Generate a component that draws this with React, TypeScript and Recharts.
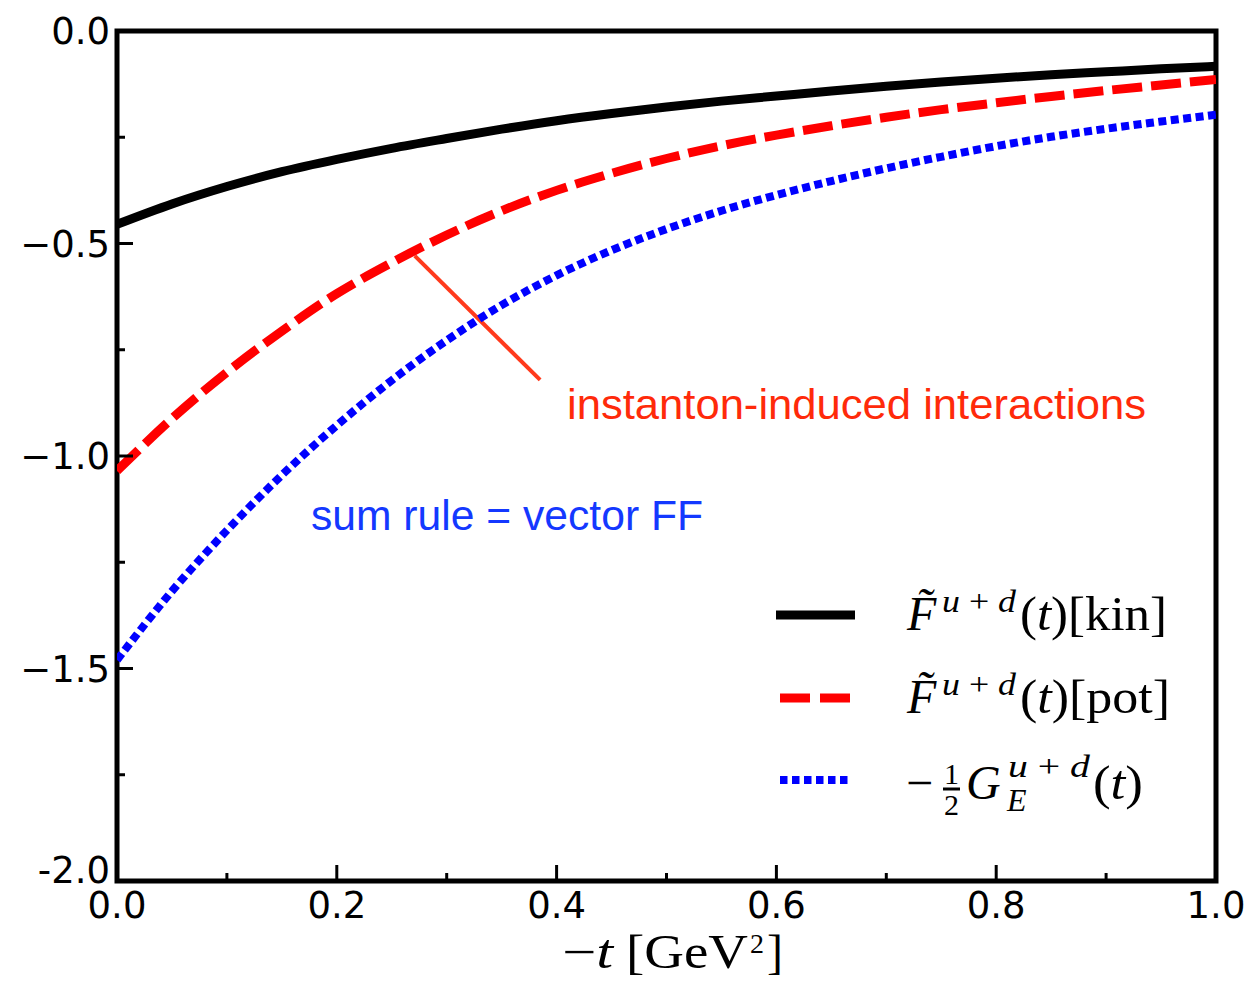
import React from "react";
import { LineChart, Line, XAxis, YAxis, ReferenceArea, ReferenceLine } from "recharts";

// -t in GeV^2
const tValues = [0, 0.05, 0.1, 0.15, 0.2, 0.25, 0.3, 0.35, 0.4, 0.45, 0.5, 0.55, 0.6, 0.65, 0.7, 0.75, 0.8, 0.85, 0.9, 0.95, 1.0];
// F~^{u+d}(t)[kin]
const kinValues = [-0.455, -0.407, -0.366, -0.331, -0.302, -0.276, -0.253, -0.231, -0.211, -0.194, -0.179, -0.165, -0.153, -0.141, -0.13, -0.12, -0.111, -0.103, -0.096, -0.089, -0.083];
// F~^{u+d}(t)[pot]
const potValues = [-1.035, -0.912, -0.803, -0.706, -0.618, -0.545, -0.48, -0.423, -0.375, -0.335, -0.3, -0.27, -0.245, -0.223, -0.203, -0.185, -0.169, -0.154, -0.14, -0.127, -0.114];
// -1/2 G_E^{u+d}(t)
const vectorValues = [-1.48, -1.318, -1.175, -1.045, -0.928, -0.822, -0.728, -0.645, -0.575, -0.516, -0.466, -0.423, -0.386, -0.353, -0.323, -0.296, -0.271, -0.249, -0.23, -0.213, -0.197];

const xTicks = [0, 0.1, 0.2, 0.3, 0.4, 0.5, 0.6, 0.7, 0.8, 0.9, 1.0];
const xTickLabels = ["0.0", "0.2", "0.4", "0.6", "0.8", "1.0"];
const yTicks = [-2, -1.75, -1.5, -1.25, -1, -0.75, -0.5, -0.25, 0];
const yTickLabels = ["-2.0", "\u22121.5", "\u22121.0", "\u22120.5", "0.0"];

const data = tValues.map((t, i) => ({
  t,
  kin: kinValues[i],
  pot: potValues[i],
  vec: vectorValues[i],
}));

const isMajor = (v: number, step: number) => Math.abs(v / step - Math.round(v / step)) < 1e-6;

function XTick(props: any) {
  const { x, y, payload } = props;
  const v = payload.value as number;
  const major = isMajor(v, 0.2);
  const label = major ? xTickLabels[Math.round(v / 0.2)] : null;
  return (
    <g>
      <line x1={x} y1={y} x2={x} y2={y - (major ? 16 : 8)} stroke="#000" strokeWidth={3} />
      {label && (
        <text x={x} y={y + 37} textAnchor="middle" fontFamily="DejaVu Sans" fontSize={37} fill="#000">
          {label}
        </text>
      )}
    </g>
  );
}

function YTick(props: any) {
  const { x, y, payload } = props;
  const v = payload.value as number;
  const major = isMajor(v, 0.5);
  const idx = Math.round((v + 2) / 0.5);
  const label = major ? yTickLabels[idx] : null;
  return (
    <g>
      <line x1={x} y1={y} x2={x + (major ? 16 : 8)} y2={y} stroke="#000" strokeWidth={3} />
      {label && (
        <text x={x - 7} y={y + 13 - (v === -2 ? 11 : 0)} textAnchor="end" fontFamily="DejaVu Sans" fontSize={37} fill="#000">
          {label}
        </text>
      )}
    </g>
  );
}

const serif = "Liberation Serif";
const fit = (w: number) => ({ textLength: w, lengthAdjust: "spacingAndGlyphs" as const });

export default function App() {
  return (
    <div style={{ position: "absolute", left: 0, top: 0, width: 1252, height: 982, background: "#fff" }}>
      <LineChart width={1252} height={982} data={data} margin={{ top: 31, right: 36, left: 0, bottom: 0 }}>
        <XAxis
          dataKey="t"
          type="number"
          domain={[0, 1]}
          ticks={xTicks}
          interval={0}
          height={101}
          tickSize={0}
          tickMargin={0}
          axisLine={false}
          tickLine={false}
          tick={<XTick />}
          allowDataOverflow
        />
        <YAxis
          type="number"
          domain={[-2, 0]}
          ticks={yTicks}
          interval={0}
          width={117}
          tickSize={0}
          tickMargin={0}
          axisLine={false}
          tickLine={false}
          tick={<YTick />}
          allowDataOverflow
        />
        <ReferenceArea x1={0} x2={1} y1={-2} y2={0} fill="none" stroke="#000" strokeWidth={5} fillOpacity={0} />
        <ReferenceLine
          segment={[
            { x: 0.271, y: -0.529 },
            { x: 0.385, y: -0.821 },
          ]}
          stroke="#ff3a1c"
          strokeWidth={4}
        />
        <Line dataKey="kin" type="monotone" stroke="#000" strokeWidth={9} dot={false} isAnimationActive={false} />
        <Line dataKey="pot" type="monotone" stroke="#ff0000" strokeWidth={9} strokeDasharray="30 9" dot={false} isAnimationActive={false} />
        <Line dataKey="vec" type="monotone" stroke="#0000ff" strokeWidth={8} strokeDasharray="8 4.5" dot={false} isAnimationActive={false} />
      </LineChart>

      <svg width={1252} height={982} style={{ position: "absolute", left: 0, top: 0, pointerEvents: "none" }}>
        {/* annotations */}
        <text x={567} y={419} fontFamily="Liberation Sans" fontSize={43} fill="#ff2a0a" {...fit(579)}>
          instanton-induced interactions
        </text>
        <text x={311} y={530} fontFamily="Liberation Sans" fontSize={43} fill="#1438ff" {...fit(392)}>
          sum rule = vector FF
        </text>

        {/* legend */}
        <line x1={776} y1={615} x2={855} y2={615} stroke="#000" strokeWidth={9} />
        <line x1={780} y1={698} x2={852} y2={698} stroke="#ff0000" strokeWidth={9} strokeDasharray="30 10" />
        <line x1={780} y1={780} x2={848} y2={780} stroke="#0000ff" strokeWidth={8} strokeDasharray="7.5 4.5" />

        <g fontFamily={serif} fill="#000">
          <text x={907} y={630} fontSize={48} fontStyle="italic">{"F\u0303"}</text>
          <text x={942} y={612} fontSize={32} {...fit(74)}>
            <tspan fontStyle="italic">u</tspan> + <tspan fontStyle="italic">d</tspan>
          </text>
          <text x={1020} y={630} fontSize={48} {...fit(147)}>
            (<tspan fontStyle="italic">t</tspan>)[kin]
          </text>

          <text x={907} y={713} fontSize={48} fontStyle="italic">{"F\u0303"}</text>
          <text x={942} y={695} fontSize={32} {...fit(74)}>
            <tspan fontStyle="italic">u</tspan> + <tspan fontStyle="italic">d</tspan>
          </text>
          <text x={1020} y={713} fontSize={48} {...fit(150)}>
            (<tspan fontStyle="italic">t</tspan>)[pot]
          </text>

          <text x={906} y={799} fontSize={48}>{"\u2212"}</text>
          <text x={944} y={784} fontSize={30}>1</text>
          <line x1={943} y1={789} x2={960} y2={789} stroke="#000" strokeWidth={3} />
          <text x={944} y={815} fontSize={30}>2</text>
          <text x={966} y={799} fontSize={48} fontStyle="italic">G</text>
          <text x={1007} y={811} fontSize={32} fontStyle="italic">E</text>
          <text x={1008} y={777} fontSize={32} {...fit(82)}>
            <tspan fontStyle="italic">u</tspan> + <tspan fontStyle="italic">d</tspan>
          </text>
          <text x={1093} y={799} fontSize={48} {...fit(50)}>
            (<tspan fontStyle="italic">t</tspan>)
          </text>

          {/* x axis title */}
          <text x={562} y={968} fontSize={48} {...fit(51)}>
            {"\u2212"}<tspan fontStyle="italic">t</tspan>
          </text>
          <text x={626} y={968} fontSize={48} {...fit(122)}>
            [GeV
          </text>
          <text x={750} y={953} fontSize={28}>2</text>
          <text x={767} y={968} fontSize={48}>]</text>
        </g>
      </svg>
    </div>
  );
}
